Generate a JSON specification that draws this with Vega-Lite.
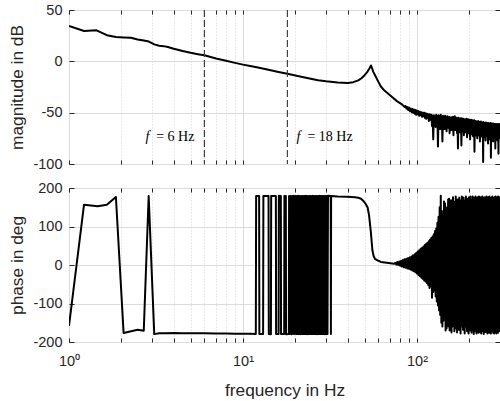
{
  "$schema": "https://vega.github.io/schema/vega-lite/v6.json",
  "background": "white",
  "padding": {"left": 8, "top": 1, "right": 0, "bottom": 0},
  "bounds": "flush",
  "spacing": 24,
  "config": {
    "font": "Liberation Sans",
    "view": {"stroke": "#262626", "strokeWidth": 1},
    "axis": {
      "labelFont": "Liberation Sans", "labelFontSize": 14.5, "labelColor": "#262626",
      "titleFont": "Liberation Sans", "titleFontSize": 17.3, "titleFontWeight": "normal", "titleColor": "#262626",
      "tickColor": "#262626", "domain": false, "gridColor": "#dcdcdc", "gridWidth": 1,
      "labelFlush": false, "labelOverlap": false
    }
  },
  "datasets": {
    "mag": [
      {"f":1,"mag":34.4},{"f":1.22,"mag":29.5},{"f":1.44,"mag":30.2},{"f":1.65,"mag":25.5},{"f":1.86,"mag":23.7},
      {"f":2.06,"mag":23.3},{"f":2.27,"mag":23.0},{"f":2.48,"mag":21.3},{"f":2.69,"mag":20.3},{"f":2.88,"mag":19.3},
      {"f":3.09,"mag":16.5},{"f":3.3,"mag":15.2},{"f":3.5,"mag":14.8},{"f":3.7,"mag":14.0},{"f":4,"mag":12.3},
      {"f":4.5,"mag":10},{"f":5,"mag":8.3},{"f":5.5,"mag":7},{"f":6,"mag":5.9},{"f":7,"mag":2.8},{"f":8,"mag":0.5},
      {"f":9,"mag":-1.5},{"f":10,"mag":-3.2},{"f":11,"mag":-4.5},{"f":12,"mag":-5.8},{"f":14,"mag":-8.2},
      {"f":16,"mag":-10.3},{"f":18,"mag":-12},{"f":20,"mag":-13.7},{"f":23,"mag":-16},{"f":27,"mag":-18.5},
      {"f":30,"mag":-19.5},{"f":35,"mag":-20.6},{"f":40,"mag":-21},{"f":43,"mag":-20.3},{"f":46,"mag":-18.5},
      {"f":48,"mag":-16.5},{"f":50,"mag":-13.5},{"f":52,"mag":-10},{"f":53.5,"mag":-6.5},{"f":54.4,"mag":-4},
      {"f":55.3,"mag":-7},{"f":56,"mag":-10},{"f":58,"mag":-15},{"f":60,"mag":-20},{"f":62,"mag":-24.5},
      {"f":65,"mag":-28.5},{"f":70,"mag":-33},{"f":77,"mag":-39},{"f":82,"mag":-42},{"f":85,"mag":-44.5},
      {"f":86,"mag":-43.5},{"f":87,"mag":-46},{"f":88,"mag":-44.5},{"f":89,"mag":-47.5},{"f":90,"mag":-45},
      {"f":91,"mag":-48.5},{"f":92,"mag":-46},{"f":93,"mag":-49.5},{"f":94,"mag":-46.5},{"f":95,"mag":-50},
      {"f":96,"mag":-47},{"f":97,"mag":-51},{"f":98,"mag":-47.5},{"f":99,"mag":-52},{"f":100,"mag":-48},
      {"f":101,"mag":-51.5},{"f":102,"mag":-48.5},{"f":103,"mag":-53},{"f":104,"mag":-49},{"f":105,"mag":-52.5},
      {"f":106,"mag":-49.5},{"f":107,"mag":-54},{"f":108,"mag":-50},{"f":109,"mag":-53.5},{"f":110,"mag":-50},
      {"f":111,"mag":-55},{"f":112,"mag":-50.5},{"f":113,"mag":-56},{"f":114,"mag":-51},{"f":115,"mag":-55},
      {"f":116,"mag":-51.5},{"f":117,"mag":-58},{"f":118,"mag":-51.5},{"f":119,"mag":-57},{"f":120,"mag":-52},
      {"f":121,"mag":-52},{"f":122,"mag":-63},{"f":123,"mag":-53},{"f":124,"mag":-76},{"f":125,"mag":-52.5},
      {"f":126,"mag":-61},{"f":127,"mag":-54},{"f":128,"mag":-64},{"f":129,"mag":-52},{"f":130,"mag":-62},
      {"f":131,"mag":-53.5},{"f":132,"mag":-83},{"f":133,"mag":-52.5},{"f":134,"mag":-63},{"f":135,"mag":-54},
      {"f":136,"mag":-66},{"f":137,"mag":-52},{"f":138,"mag":-62},{"f":139,"mag":-55},{"f":140,"mag":-78},
      {"f":141,"mag":-53},{"f":142,"mag":-64},{"f":143,"mag":-54.5},{"f":144,"mag":-66},{"f":145,"mag":-53},
      {"f":146,"mag":-63},{"f":147,"mag":-55},{"f":148,"mag":-68},{"f":149,"mag":-53.5},{"f":150,"mag":-64},
      {"f":151,"mag":-55.5},{"f":152,"mag":-65},{"f":153,"mag":-54},{"f":154,"mag":-70},{"f":155,"mag":-56},
      {"f":156,"mag":-64},{"f":157,"mag":-54.5},{"f":158,"mag":-67},{"f":159,"mag":-56},{"f":160,"mag":-65},
      {"f":161,"mag":-54},{"f":162,"mag":-72},{"f":163,"mag":-55.5},{"f":164,"mag":-66},{"f":165,"mag":-53.5},
      {"f":166,"mag":-67},{"f":167,"mag":-56},{"f":168,"mag":-65},{"f":169,"mag":-55},{"f":170,"mag":-70},
      {"f":171,"mag":-56.5},{"f":172,"mag":-85},{"f":173,"mag":-55},{"f":174,"mag":-66},{"f":175,"mag":-57},
      {"f":176,"mag":-69},{"f":177,"mag":-55.5},{"f":178,"mag":-67},{"f":179,"mag":-57},{"f":180,"mag":-82},
      {"f":181,"mag":-55.5},{"f":182,"mag":-68},{"f":183,"mag":-57},{"f":184,"mag":-66},{"f":185,"mag":-56},
      {"f":186,"mag":-72},{"f":187,"mag":-58},{"f":188,"mag":-67},{"f":189,"mag":-56.5},{"f":190,"mag":-69},
      {"f":191,"mag":-57.5},{"f":192,"mag":-67},{"f":193,"mag":-56},{"f":194,"mag":-74},{"f":195,"mag":-58},
      {"f":196,"mag":-68},{"f":197,"mag":-56.5},{"f":198,"mag":-70},{"f":199,"mag":-58.5},{"f":200,"mag":-68},
      {"f":201,"mag":-57},{"f":202,"mag":-76},{"f":203,"mag":-58.5},{"f":204,"mag":-69},{"f":205,"mag":-57},
      {"f":206,"mag":-71},{"f":207,"mag":-59},{"f":208,"mag":-68},{"f":209,"mag":-57.5},{"f":210,"mag":-73},
      {"f":211,"mag":-59},{"f":212,"mag":-69},{"f":213,"mag":-57.5},{"f":214,"mag":-88},{"f":215,"mag":-59.5},
      {"f":216,"mag":-70},{"f":217,"mag":-58},{"f":218,"mag":-72},{"f":219,"mag":-60},{"f":220,"mag":-69},
      {"f":221,"mag":-58.5},{"f":222,"mag":-75},{"f":223,"mag":-60},{"f":224,"mag":-70},{"f":225,"mag":-58},
      {"f":226,"mag":-72},{"f":227,"mag":-60.5},{"f":228,"mag":-69},{"f":229,"mag":-59},{"f":230,"mag":-78},
      {"f":231,"mag":-60},{"f":232,"mag":-71},{"f":233,"mag":-58.5},{"f":234,"mag":-73},{"f":235,"mag":-61},
      {"f":236,"mag":-70},{"f":237,"mag":-59.5},{"f":238,"mag":-74},{"f":239,"mag":-61},{"f":240,"mag":-98},
      {"f":241,"mag":-59},{"f":242,"mag":-72},{"f":243,"mag":-61},{"f":244,"mag":-74},{"f":245,"mag":-60},
      {"f":246,"mag":-70},{"f":247,"mag":-61.5},{"f":248,"mag":-77},{"f":249,"mag":-59.5},{"f":250,"mag":-71},
      {"f":251,"mag":-61},{"f":252,"mag":-73},{"f":253,"mag":-60},{"f":254,"mag":-72},{"f":255,"mag":-62},
      {"f":256,"mag":-80},{"f":257,"mag":-60},{"f":258,"mag":-71},{"f":259,"mag":-61.5},{"f":260,"mag":-73},
      {"f":261,"mag":-60.5},{"f":262,"mag":-76},{"f":263,"mag":-62},{"f":264,"mag":-71},{"f":265,"mag":-60},
      {"f":266,"mag":-94},{"f":267,"mag":-61.5},{"f":268,"mag":-72},{"f":269,"mag":-60.5},{"f":270,"mag":-74},
      {"f":271,"mag":-62},{"f":272,"mag":-71},{"f":273,"mag":-60.5},{"f":274,"mag":-78},{"f":275,"mag":-62},
      {"f":276,"mag":-72},{"f":277,"mag":-61},{"f":278,"mag":-74},{"f":279,"mag":-62.5},{"f":280,"mag":-71},
      {"f":281,"mag":-61},{"f":282,"mag":-85},{"f":283,"mag":-62},{"f":284,"mag":-72},{"f":285,"mag":-61},
      {"f":286,"mag":-74},{"f":287,"mag":-62.5},{"f":288,"mag":-72},{"f":289,"mag":-61},{"f":290,"mag":-77},
      {"f":291,"mag":-62},{"f":292,"mag":-72},{"f":293,"mag":-61.5},{"f":294,"mag":-90},{"f":295,"mag":-62},
      {"f":296,"mag":-73},{"f":297,"mag":-61},{"f":298,"mag":-75},{"f":299,"mag":-62},{"f":300,"mag":-74}
    ],
    "phase": [
      {"f":1,"phase":-158},{"f":1.22,"phase":156.6},{"f":1.46,"phase":152.5},{"f":1.65,"phase":156.6},
      {"f":1.86,"phase":176.6},{"f":2.06,"phase":-176.6},{"f":2.48,"phase":-168},{"f":2.69,"phase":-170.6},
      {"f":2.87,"phase":179},{"f":3.09,"phase":-179.5},{"f":3.3,"phase":-177},{"f":3.6,"phase":-177.5},
      {"f":4,"phase":-176.5},{"f":4.5,"phase":-177.5},{"f":5,"phase":-177},{"f":6,"phase":-177.5},
      {"f":7,"phase":-178},{"f":8,"phase":-178},{"f":9,"phase":-178.5},{"f":10,"phase":-178.5},
      {"f":11,"phase":-178.5},{"f":11.85,"phase":-179},
      {"f":11.9,"phase":179},{"f":12.38,"phase":179.3},{"f":12.42,"phase":-179.2},{"f":13.05,"phase":-179.4},
      {"f":13.1,"phase":179.5},{"f":14.02,"phase":179.1},{"f":14.07,"phase":-179.3},{"f":14.47,"phase":-179.6},
      {"f":14.52,"phase":179.4},{"f":15.45,"phase":179.2},{"f":15.5,"phase":-179.5},{"f":16.02,"phase":-179.1},
      {"f":16.07,"phase":179.6},{"f":16.5,"phase":179.3},{"f":16.55,"phase":-179.4},{"f":17.25,"phase":-179.2},
      {"f":17.3,"phase":179.5},{"f":17.63,"phase":179.1},{"f":17.68,"phase":-179.6},{"f":18.35,"phase":-179.3},
      {"f":18.4,"phase":179.5},{"f":18.6,"phase":-179.4},{"f":18.8,"phase":179.2},{"f":19.0,"phase":-179.6},
      {"f":19.2,"phase":179.4},{"f":19.4,"phase":-179.1},{"f":19.6,"phase":179.6},{"f":19.8,"phase":-179.3},
      {"f":20.0,"phase":179.1},{"f":20.2,"phase":-179.5},{"f":20.4,"phase":179.3},{"f":20.6,"phase":-179.2},
      {"f":20.8,"phase":179.6},{"f":21.0,"phase":-179.4},{"f":21.2,"phase":179.2},{"f":21.4,"phase":-179.6},
      {"f":21.6,"phase":179.4},{"f":21.8,"phase":-179.1},{"f":22.0,"phase":179.5},{"f":22.2,"phase":-179.3},
      {"f":22.4,"phase":179.2},{"f":22.6,"phase":-179.5},{"f":22.8,"phase":179.6},{"f":23.0,"phase":-179.2},
      {"f":23.2,"phase":179.3},{"f":23.4,"phase":-179.6},{"f":23.6,"phase":179.1},{"f":23.8,"phase":-179.4},
      {"f":24.0,"phase":179.5},{"f":24.2,"phase":-179.2},{"f":24.4,"phase":179.4},{"f":24.6,"phase":-179.5},
      {"f":24.8,"phase":179.2},{"f":25.0,"phase":-179.3},{"f":25.2,"phase":179.6},{"f":25.4,"phase":-179.1},
      {"f":25.6,"phase":179.3},{"f":25.8,"phase":-179.5},{"f":26.0,"phase":179.4},{"f":26.2,"phase":-179.2},
      {"f":26.4,"phase":179.1},{"f":26.6,"phase":-179.6},{"f":26.8,"phase":179.5},{"f":27.0,"phase":-179.3},
      {"f":27.2,"phase":179.2},{"f":27.4,"phase":-179.4},{"f":27.6,"phase":179.6},{"f":27.8,"phase":-179.2},
      {"f":28.0,"phase":179.4},{"f":28.2,"phase":-179.5},{"f":28.4,"phase":179.3},{"f":28.6,"phase":-179.1},
      {"f":28.8,"phase":179.5},{"f":29.0,"phase":-179.3},{"f":29.2,"phase":179.2},{"f":29.4,"phase":-179.6},
      {"f":29.6,"phase":179.4},{"f":29.8,"phase":-179.2},{"f":30.0,"phase":179.1},{"f":30.2,"phase":-179.5},
      {"f":30.4,"phase":179.3},{"f":30.6,"phase":-179.4},{"f":30.8,"phase":179.6},
      {"f":31.9,"phase":179.2},{"f":32.0,"phase":-179.5},{"f":32.1,"phase":179.3},
      {"f":35,"phase":178},{"f":40,"phase":177.5},{"f":44,"phase":176},{"f":46,"phase":174.5},{"f":47.7,"phase":172},
      {"f":49,"phase":167},{"f":50.5,"phase":160},{"f":52,"phase":150},{"f":53,"phase":130},{"f":54.3,"phase":86},
      {"f":55.4,"phase":39},{"f":56.3,"phase":24},{"f":57.3,"phase":16},{"f":60,"phase":11},{"f":62,"phase":8},
      {"f":67,"phase":6},{"f":74,"phase":3.5},
      {"f":75,"phase":6},{"f":76,"phase":1},{"f":77,"phase":8},{"f":78,"phase":0},{"f":79,"phase":9},{"f":80,"phase":-2},
      {"f":81,"phase":11},{"f":82,"phase":-4},{"f":83,"phase":13},{"f":84,"phase":-6},{"f":85,"phase":15},
      {"f":86,"phase":-7},{"f":87,"phase":16},{"f":88,"phase":-9},{"f":89,"phase":18},{"f":90,"phase":-10},
      {"f":91,"phase":20},{"f":92,"phase":-12},{"f":93,"phase":22},{"f":94,"phase":-14},{"f":95,"phase":25},
      {"f":96,"phase":-16},{"f":97,"phase":28},{"f":98,"phase":-19},{"f":99,"phase":31},{"f":100,"phase":-22},
      {"f":101,"phase":35},{"f":102,"phase":-26},{"f":103,"phase":38},{"f":104,"phase":-29},{"f":105,"phase":42},
      {"f":106,"phase":-33},{"f":107,"phase":45},{"f":108,"phase":-36},{"f":109,"phase":48},{"f":110,"phase":-40},
      {"f":111,"phase":52},{"f":112,"phase":-43},{"f":113,"phase":55},{"f":114,"phase":-47},{"f":115,"phase":58},
      {"f":116,"phase":-52},{"f":117,"phase":62},{"f":118,"phase":-60},{"f":119,"phase":66},{"f":120,"phase":-55},
      {"f":121,"phase":70},{"f":122,"phase":-85},{"f":123,"phase":74},{"f":124,"phase":-70},{"f":125,"phase":80},
      {"f":126,"phase":-66},{"f":127,"phase":88},{"f":128,"phase":-82},{"f":129,"phase":95},{"f":130,"phase":-95},
      {"f":131,"phase":110},{"f":132,"phase":-105},{"f":133,"phase":125},{"f":134,"phase":-118},{"f":135,"phase":150},
      {"f":136,"phase":-130},{"f":137,"phase":180},{"f":138,"phase":-150},{"f":139,"phase":140},{"f":140,"phase":-160},
      {"f":141,"phase":130},{"f":142,"phase":-145},{"f":143,"phase":165},{"f":144,"phase":-120},{"f":145,"phase":160},
      {"f":146,"phase":-170},{"f":147,"phase":120},{"f":148,"phase":-165},{"f":149,"phase":150},{"f":150,"phase":-140},
      {"f":151,"phase":170},{"f":152,"phase":-160},{"f":153,"phase":172},{"f":154,"phase":-170},{"f":155,"phase":140},
      {"f":156,"phase":-150},{"f":157,"phase":168},{"f":158,"phase":-175},{"f":159,"phase":155},{"f":160,"phase":-160},
      {"f":161,"phase":176},{"f":162,"phase":-135},{"f":163,"phase":150},{"f":164,"phase":-172},{"f":165,"phase":165},
      {"f":166,"phase":-150},{"f":167,"phase":178},{"f":168,"phase":-165},{"f":169,"phase":145},{"f":170,"phase":-175},
      {"f":171,"phase":170},{"f":172,"phase":-150},{"f":173,"phase":160},{"f":174,"phase":-168},{"f":175,"phase":175},
      {"f":176,"phase":-140},{"f":177,"phase":155},{"f":178,"phase":-178},{"f":179,"phase":168},{"f":180,"phase":-160},
      {"f":181,"phase":178},{"f":182,"phase":-150},{"f":183,"phase":160},{"f":184,"phase":-168},{"f":185,"phase":175},
      {"f":186,"phase":-145},{"f":187,"phase":155},{"f":188,"phase":-178},{"f":189,"phase":168},{"f":190,"phase":-160},
      {"f":191,"phase":178},{"f":192,"phase":-150},{"f":193,"phase":150},{"f":194,"phase":-172},{"f":195,"phase":172},
      {"f":196,"phase":-165},{"f":197,"phase":160},{"f":198,"phase":-178},{"f":199,"phase":176},{"f":200,"phase":-155},
      {"f":201,"phase":165},{"f":202,"phase":-170},{"f":203,"phase":178},{"f":204,"phase":-162},{"f":205,"phase":158},
      {"f":206,"phase":-176},{"f":207,"phase":170},{"f":208,"phase":-150},{"f":209,"phase":178},{"f":210,"phase":-168},
      {"f":211,"phase":162},{"f":212,"phase":-179},{"f":213,"phase":175},{"f":214,"phase":-160},{"f":215,"phase":168},
      {"f":216,"phase":-172},{"f":217,"phase":178},{"f":218,"phase":-165},{"f":219,"phase":160},{"f":220,"phase":-178},
      {"f":221,"phase":172},{"f":222,"phase":-158},{"f":223,"phase":176},{"f":224,"phase":-170},{"f":225,"phase":165},
      {"f":226,"phase":-176},{"f":227,"phase":178},{"f":228,"phase":-162},{"f":229,"phase":170},{"f":230,"phase":-174},
      {"f":231,"phase":176},{"f":232,"phase":-168},{"f":233,"phase":162},{"f":234,"phase":-178},{"f":235,"phase":174},
      {"f":236,"phase":-165},{"f":237,"phase":178},{"f":238,"phase":-172},{"f":239,"phase":168},{"f":240,"phase":-160},
      {"f":241,"phase":175},{"f":242,"phase":-179},{"f":243,"phase":150},{"f":244,"phase":-168},{"f":245,"phase":176},
      {"f":246,"phase":-155},{"f":247,"phase":170},{"f":248,"phase":-174},{"f":249,"phase":162},{"f":250,"phase":-165},
      {"f":251,"phase":178},{"f":252,"phase":-170},{"f":253,"phase":158},{"f":254,"phase":-178},{"f":255,"phase":172},
      {"f":256,"phase":-160},{"f":257,"phase":176},{"f":258,"phase":-168},{"f":259,"phase":165},{"f":260,"phase":-176},
      {"f":261,"phase":178},{"f":262,"phase":-152},{"f":263,"phase":170},{"f":264,"phase":-172},{"f":265,"phase":160},
      {"f":266,"phase":-178},{"f":267,"phase":175},{"f":268,"phase":-165},{"f":269,"phase":168},{"f":270,"phase":-170},
      {"f":271,"phase":178},{"f":272,"phase":-158},{"f":273,"phase":162},{"f":274,"phase":-176},{"f":275,"phase":174},
      {"f":276,"phase":-168},{"f":277,"phase":170},{"f":278,"phase":-178},{"f":279,"phase":176},{"f":280,"phase":-162},
      {"f":281,"phase":165},{"f":282,"phase":-174},{"f":283,"phase":178},{"f":284,"phase":-166},{"f":285,"phase":160},
      {"f":286,"phase":-178},{"f":287,"phase":172},{"f":288,"phase":-160},{"f":289,"phase":176},{"f":290,"phase":-170},
      {"f":291,"phase":168},{"f":292,"phase":-176},{"f":293,"phase":178},{"f":294,"phase":-164},{"f":295,"phase":170},
      {"f":296,"phase":-172},{"f":297,"phase":176},{"f":298,"phase":-160},{"f":299,"phase":166},{"f":300,"phase":-170}
    ],
    "marks": [
      {"f": 6, "label": "= 6 Hz"},
      {"f": 18, "label": "= 18 Hz"}
    ]
  },
  "vconcat": [
    {
      "width": 431,
      "height": 154,
      "layer": [
        {
          "data": {"name": "mag"},
          "mark": {"type": "line", "color": "black", "strokeWidth": 2, "clip": true, "strokeJoin": "round"},
          "encoding": {
            "x": {
              "field": "f", "type": "quantitative",
              "scale": {"type": "log", "domain": [1, 300], "nice": false},
              "axis": {
                "orient": "bottom", "values": [1,2,3,4,5,6,7,8,9,10,20,30,40,50,60,70,80,90,100,200,300],
                "labels": false, "title": null, "grid": true, "tickSize": -4,
                "gridDash": {"condition": {"test": "datum.value == 1 || datum.value == 10 || datum.value == 100", "value": []}, "value": [1, 2]},
                "gridColor": {"condition": {"test": "datum.value == 1 || datum.value == 10 || datum.value == 100", "value": "#dcdcdc"}, "value": "#d4d4d4"}
              }
            },
            "y": {
              "field": "mag", "type": "quantitative",
              "scale": {"domain": [-100, 50], "nice": false, "zero": false},
              "axis": {
                "orient": "left", "values": [-100, -50, 0, 50], "labelExpr": "toString(datum.value)",
                "title": "magnitude in dB", "grid": true, "tickSize": -5, "labelPadding": 12, "titlePadding": 6
              }
            }
          }
        },
        {
          "data": {"values": []},
          "mark": {"type": "point", "opacity": 0},
          "encoding": {
            "x": {"field": "f", "type": "quantitative",
              "axis": {"orient": "top", "values": [1,2,3,4,5,6,7,8,9,10,20,30,40,50,60,70,80,90,100,200,300], "labels": false, "title": null, "grid": false, "tickSize": -4}},
            "y": {"field": "mag", "type": "quantitative",
              "axis": {"orient": "right", "values": [-100, -50, 0, 50], "labels": false, "title": null, "grid": false, "tickSize": -5}}
          }
        },
        {
          "data": {"name": "marks"},
          "mark": {"type": "rule", "color": "#404040", "strokeDash": [7, 3], "strokeWidth": 1.2},
          "encoding": {"x": {"field": "f", "type": "quantitative", "axis": null}}
        },
        {
          "data": {"name": "marks"},
          "transform": [{"filter": "datum.f == 6"}],
          "mark": {"type": "text", "align": "right", "baseline": "middle", "dx": -10, "font": "Liberation Serif", "fontSize": 14, "color": "black"},
          "encoding": {
            "x": {"field": "f", "type": "quantitative", "axis": null},
            "y": {"datum": -74, "axis": null},
            "text": {"field": "label"}
          }
        },
        {
          "data": {"name": "marks"},
          "transform": [{"filter": "datum.f == 6"}],
          "mark": {"type": "text", "text": "f", "align": "right", "baseline": "middle", "dx": -55, "font": "Liberation Serif", "fontStyle": "italic", "fontSize": 14, "color": "black"},
          "encoding": {
            "x": {"field": "f", "type": "quantitative", "axis": null},
            "y": {"datum": -74, "axis": null}
          }
        },
        {
          "data": {"name": "marks"},
          "transform": [{"filter": "datum.f == 18"}],
          "mark": {"type": "text", "align": "left", "baseline": "middle", "dx": 20, "font": "Liberation Serif", "fontSize": 14, "color": "black"},
          "encoding": {
            "x": {"field": "f", "type": "quantitative", "axis": null},
            "y": {"datum": -74, "axis": null},
            "text": {"field": "label"}
          }
        },
        {
          "data": {"name": "marks"},
          "transform": [{"filter": "datum.f == 18"}],
          "mark": {"type": "text", "text": "f", "align": "left", "baseline": "middle", "dx": 9, "font": "Liberation Serif", "fontStyle": "italic", "fontSize": 14, "color": "black"},
          "encoding": {
            "x": {"field": "f", "type": "quantitative", "axis": null},
            "y": {"datum": -74, "axis": null}
          }
        }
      ]
    },
    {
      "width": 431,
      "height": 154,
      "layer": [
        {
          "data": {"name": "phase"},
          "mark": {"type": "line", "color": "black", "strokeWidth": 2, "clip": true, "strokeJoin": "round"},
          "encoding": {
            "x": {
              "field": "f", "type": "quantitative",
              "scale": {"type": "log", "domain": [1, 300], "nice": false},
              "axis": {
                "orient": "bottom", "values": [1,2,3,4,5,6,7,8,9,10,20,30,40,50,60,70,80,90,100,200,300],
                "labelExpr": "datum.value == 1 ? '10⁰' : datum.value == 10 ? '10¹' : datum.value == 100 ? '10²' : ''",
                "title": "frequency in Hz", "grid": true, "tickSize": -4, "labelPadding": 16, "titlePadding": 14,
                "gridDash": {"condition": {"test": "datum.value == 1 || datum.value == 10 || datum.value == 100", "value": []}, "value": [1, 2]},
                "gridColor": {"condition": {"test": "datum.value == 1 || datum.value == 10 || datum.value == 100", "value": "#dcdcdc"}, "value": "#d4d4d4"}
              }
            },
            "y": {
              "field": "phase", "type": "quantitative",
              "scale": {"domain": [-200, 200], "nice": false, "zero": false},
              "axis": {
                "orient": "left", "values": [-200, -100, 0, 100, 200], "labelExpr": "toString(datum.value)",
                "title": "phase in deg", "grid": true, "tickSize": -5, "labelPadding": 12, "titlePadding": 6
              }
            }
          }
        },
        {
          "data": {"values": []},
          "mark": {"type": "point", "opacity": 0},
          "encoding": {
            "x": {"field": "f", "type": "quantitative",
              "axis": {"orient": "top", "values": [1,2,3,4,5,6,7,8,9,10,20,30,40,50,60,70,80,90,100,200,300], "labels": false, "title": null, "grid": false, "tickSize": -4}},
            "y": {"field": "phase", "type": "quantitative",
              "axis": {"orient": "right", "values": [-200, -100, 0, 100, 200], "labels": false, "title": null, "grid": false, "tickSize": -5}}
          }
        }
      ]
    }
  ]
}
